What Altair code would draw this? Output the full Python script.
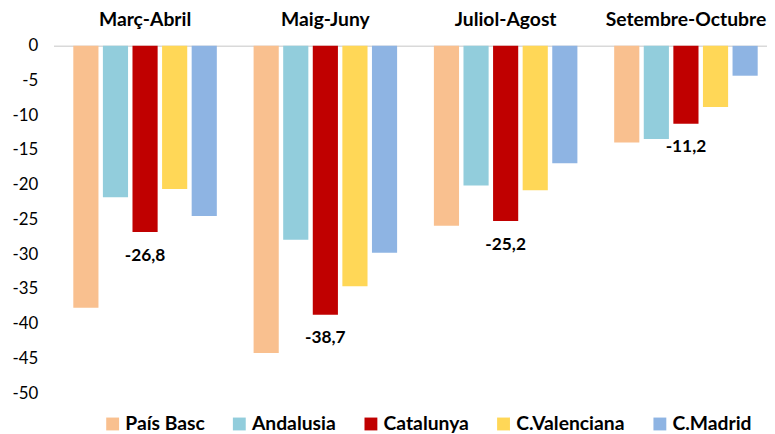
import altair as alt
import pandas as pd

periods = ["Març-Abril", "Maig-Juny", "Juliol-Agost", "Setembre-Octubre"]
regions = ["País Basc", "Andalusia", "Catalunya", "C.Valenciana", "C.Madrid"]
colors = ["#F9C08F", "#92CDDC", "#C00000", "#FFD757", "#8EB4E3"]

pais_basc = [-37.7, -44.2, -25.9, -13.9]
andalusia = [-21.8, -27.9, -20.1, -13.4]
catalunya = [-26.8, -38.7, -25.2, -11.2]
c_valenciana = [-20.6, -34.6, -20.8, -8.8]
c_madrid = [-24.5, -29.8, -16.9, -4.3]

y_ticks = [0, -5, -10, -15, -20, -25, -30, -35, -40, -45, -50]

series = [pais_basc, andalusia, catalunya, c_valenciana, c_madrid]
rows = []
for reg, vals in zip(regions, series):
    for p, v in zip(periods, vals):
        rows.append({"period": p, "region": reg, "value": v,
                     "label": f"{v:.1f}".replace(".", ",")})
df = pd.DataFrame(rows)

FONT = "Lato"

x_axis = alt.Axis(orient="top", title=None, labelAngle=0, ticks=False,
                  domainColor="#d9d9d9", domainWidth=1.5,
                  labelFontWeight="bold", labelFontSize=19.5,
                  labelColor="#000000", labelPadding=17, labelFont=FONT)
x_scale = alt.Scale(paddingInner=0.204, paddingOuter=0.0807, align=0.68)
y_axis = alt.Axis(values=y_ticks, grid=False, domain=False,
                  ticks=False, labelFontSize=17, labelPadding=16, title=None,
                  labelColor="#000000", labelFont=FONT,
                  labelOverlap=False, labelBound=False, labelFlush=False,
                  labelExpr="'' + datum.value")
y_scale = alt.Scale(domain=[-50, 0], nice=False)
xo_enc = alt.XOffset("region:N", sort=regions,
                     scale=alt.Scale(paddingInner=0.15, paddingOuter=0))

bars = alt.Chart(df).mark_bar().encode(
    x=alt.X("period:N", sort=periods, scale=x_scale, axis=x_axis),
    xOffset=xo_enc,
    y=alt.Y("value:Q", scale=y_scale, axis=y_axis),
    color=alt.Color("region:N", sort=regions,
                    scale=alt.Scale(domain=regions, range=colors),
                    legend=alt.Legend(orient="none", legendX=50, legendY=372,
                                      direction="horizontal", title=None,
                                      symbolType="square", symbolSize=169,
                                      symbolStrokeWidth=0,
                                      labelFontSize=19.5, labelFontWeight="bold",
                                      labelFont=FONT, labelColor="#000000",
                                      columnPadding=25, labelOffset=3,
                                      columns=5)),
)

labels = alt.Chart(df).transform_filter(
    alt.datum.region == "Catalunya"
).mark_text(baseline="top", dy=15, fontSize=17.5, fontWeight="bold",
            font=FONT, color="#000000").encode(
    x=alt.X("period:N", sort=periods, scale=x_scale, axis=x_axis),
    xOffset=xo_enc,
    y=alt.Y("value:Q", scale=y_scale, axis=y_axis),
    text="label:N",
)

chart = alt.layer(bars, labels).properties(
    width=721, height=351,
    autosize=alt.AutoSizeParams(type="none"),
    padding={"left": 46, "top": 36, "right": 0, "bottom": 39},
).configure_view(stroke=None)

chart.save("out.html", embed_options={"renderer": "svg", "actions": False})
